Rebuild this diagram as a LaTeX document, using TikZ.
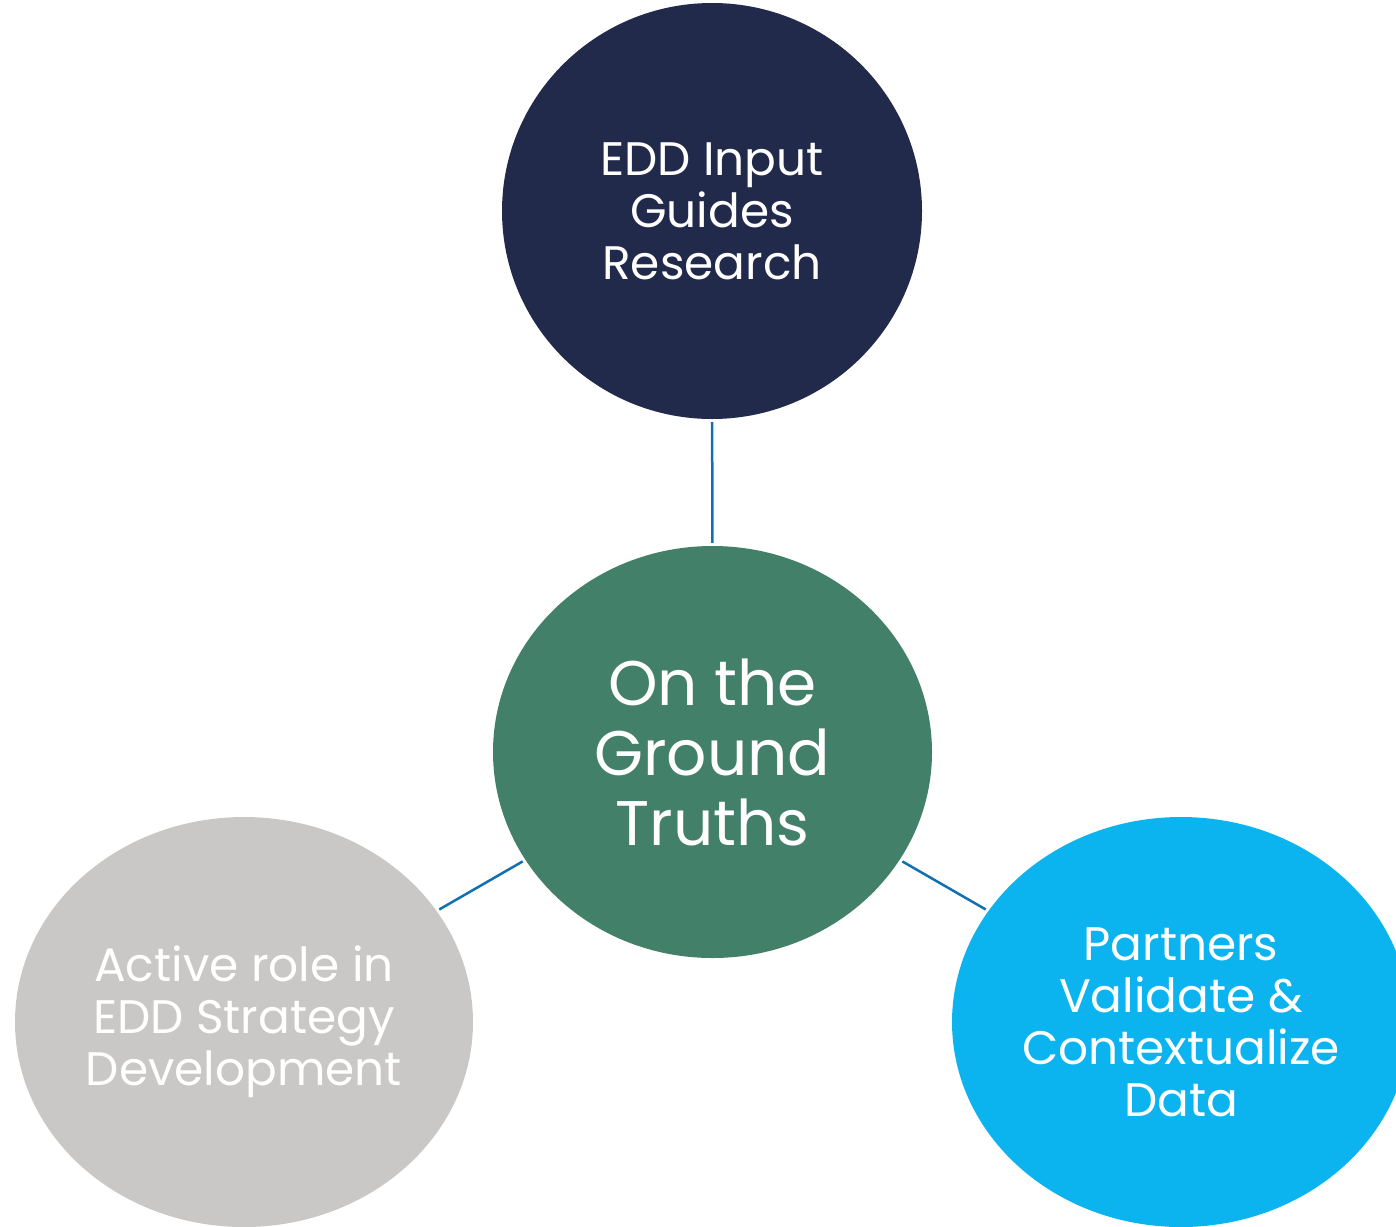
\documentclass[tikz,border=0pt]{standalone}
\usepackage{fontspec}
\setmainfont{Poppins}
\usetikzlibrary{positioning,shapes.geometric}

\definecolor{navyblob}{HTML}{222A4B}
\definecolor{greenblob}{HTML}{43806A}
\definecolor{greyblob}{HTML}{C9C8C6}
\definecolor{cyanblob}{HTML}{0BB4EF}
\definecolor{linkblue}{HTML}{1070B0}

\begin{document}
\begin{tikzpicture}[x=1pt,y=-1pt,
	blob/.style={ellipse,inner sep=0pt,text=white,align=center,font=\fontsize{47}{52}\selectfont},
	link/.style={draw=linkblue,line width=2.5pt,shorten <=3pt,shorten >=3pt}]
	\clip (0,0) rectangle (1396,1226);
	\useasboundingbox (0,0) rectangle (1396,1226);

	% centre and the three around it
	\node[blob,fill=greenblob,minimum width=439pt,minimum height=412pt,font=\fontsize{63}{70}\selectfont] (truths) at (712.5,752) {On the\\Ground\\Truths};
	\node[blob,fill=navyblob,minimum width=420pt,minimum height=416pt] (input) at (712,211) {EDD Input\\Guides\\Research};
	\node[blob,fill=greyblob,minimum width=458pt,minimum height=410pt] (role) at (244,1022) {Active role in\\EDD Strategy\\Development};
	\node[blob,fill=cyanblob,minimum width=458pt,minimum height=410pt] (partners) at (1181,1022) {Partners\\Validate \&\\Contextualize\\Data};

	\draw[link] (input) -- (truths);
	\draw[link] (truths) -- (role);
	\draw[link] (truths) -- (partners);
\end{tikzpicture}
\end{document}
